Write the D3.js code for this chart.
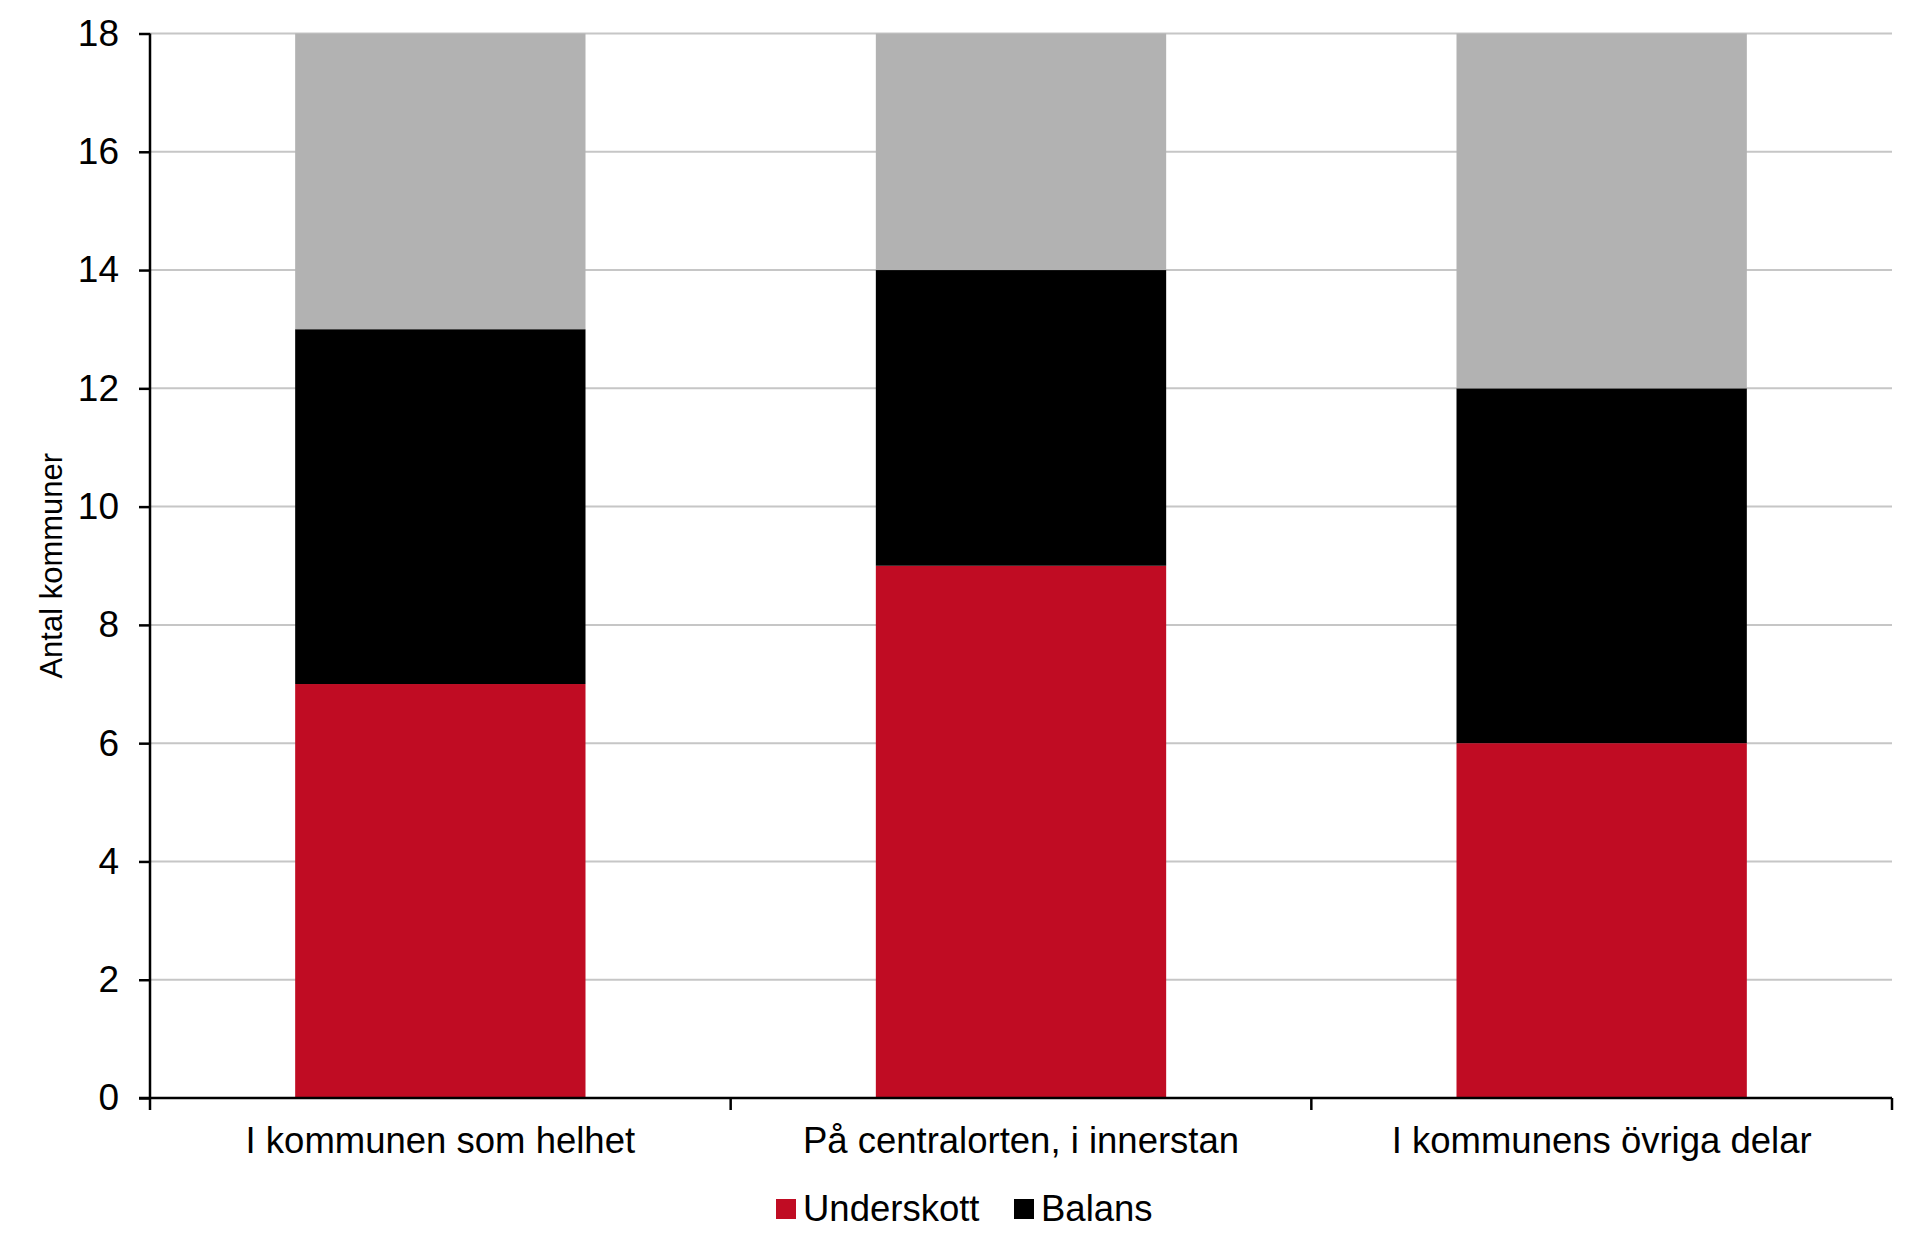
<!DOCTYPE html>
<html>
<head>
	<meta charset="utf-8">
	<title>Antal kommuner</title>
	<script src="https://d3js.org/d3.v7.min.js" charset="utf-8"></script>
	<style>
		html, body { margin: 0; padding: 0; background: #fff; }
		svg { display: block; font-family: "Liberation Sans", Arial, sans-serif; }
	</style>
</head>
<body>
<div id="content"></div>

<script type="text/javascript">
	var categories = ['I kommunen som helhet', 'På centralorten, i innerstan', 'I kommunens övriga delar'];
	var seriesNames = ['Underskott', 'Balans', 'Överskott'];
	var underskott = [7, 9, 6];
	var balans = [6, 5, 6];
	var overskott = [5, 4, 6];
	var yTicks = [0, 2, 4, 6, 8, 10, 12, 14, 16, 18];
	var legendNames = ['Underskott', 'Balans'];
	var colors = { 'Underskott': '#c00c23', 'Balans': '#000000', 'Överskott': '#b2b2b2' };

	var width = 1920, height = 1249;
	var margin = { top: 33.5, right: 28, bottom: 151, left: 150 };

	var rows = categories.map((c, i) => ({
		cat: c,
		'Underskott': underskott[i],
		'Balans': balans[i],
		'Överskott': overskott[i]
	}));

	var svg = d3.select('#content')
		.append('svg')
		.attr('width', width)
		.attr('height', height);

	var x = d3.scaleBand()
		.domain(categories)
		.range([margin.left, width - margin.right])
		.paddingInner(0.5)
		.paddingOuter(0.25);

	var y = d3.scaleLinear()
		.domain([0, 18])
		.range([height - margin.bottom, margin.top]);

	// gridlines
	svg.append('g')
		.selectAll('line')
		.data(yTicks.filter(d => d > 0))
		.enter().append('line')
		.attr('x1', margin.left)
		.attr('x2', width - margin.right)
		.attr('y1', d => y(d))
		.attr('y2', d => y(d))
		.attr('stroke', '#c6c6c6')
		.attr('stroke-width', 2);

	// stacked bars
	var stack = d3.stack().keys(seriesNames)(rows);

	svg.append('g')
		.selectAll('g')
		.data(stack)
		.enter().append('g')
		.attr('fill', d => colors[d.key])
		.selectAll('rect')
		.data(d => d)
		.enter().append('rect')
		.attr('x', d => x(d.data.cat))
		.attr('width', x.bandwidth())
		.attr('y', d => y(Math.min(d[1], 18)))
		.attr('height', d => y(d[0]) - y(Math.min(d[1], 18)));

	// y axis
	var yAxis = svg.append('g')
		.attr('transform', 'translate(' + margin.left + ',0)')
		.call(d3.axisLeft(y).tickValues(yTicks).tickSize(11).tickPadding(20));
	yAxis.select('.domain').attr('stroke', '#000').attr('stroke-width', 2.5)
		.attr('d', 'M0,' + y(0) + 'V' + y(18));
	yAxis.selectAll('.tick line').attr('stroke', '#000').attr('stroke-width', 2.5);
	yAxis.selectAll('.tick text')
		.attr('fill', '#000')
		.style('font-size', '37px')
		.style('font-family', '"Liberation Sans", Arial, sans-serif');

	// x axis line and boundary ticks
	var x0 = x.range()[0], x1 = x.range()[1];
	svg.append('line')
		.attr('x1', x0 - 11).attr('x2', x1)
		.attr('y1', y(0)).attr('y2', y(0))
		.attr('stroke', '#000').attr('stroke-width', 2.5);

	var bounds = d3.range(categories.length + 1).map(i => x0 + i * x.step());
	svg.append('g')
		.selectAll('line')
		.data(bounds)
		.enter().append('line')
		.attr('x1', d => d).attr('x2', d => d)
		.attr('y1', y(0)).attr('y2', y(0) + 12)
		.attr('stroke', '#000').attr('stroke-width', 2.5);

	svg.append('g')
		.selectAll('text')
		.data(categories)
		.enter().append('text')
		.attr('x', d => x(d) + x.bandwidth() / 2)
		.attr('y', y(0) + 55)
		.attr('text-anchor', 'middle')
		.style('font-size', '36.5px')
		.attr('fill', '#000')
		.text(d => d);

	// y axis title
	svg.append('text')
		.attr('transform', 'translate(62,' + ((y(0) + y(18)) / 2) + ') rotate(-90)')
		.attr('text-anchor', 'middle')
		.style('font-size', '31px')
		.attr('fill', '#000')
		.text('Antal kommuner');

	// legend
	var legendX = [776, 1014];
	var legend = svg.append('g')
		.selectAll('g')
		.data(legendNames)
		.enter().append('g')
		.attr('transform', (d, i) => 'translate(' + legendX[i] + ',1199)');
	legend.append('rect')
		.attr('width', 20).attr('height', 20)
		.attr('fill', d => colors[d]);
	legend.append('text')
		.attr('x', 27).attr('y', 22)
		.style('font-size', '36.5px')
		.attr('fill', '#000')
		.text(d => d);
</script>
</body>
</html>
